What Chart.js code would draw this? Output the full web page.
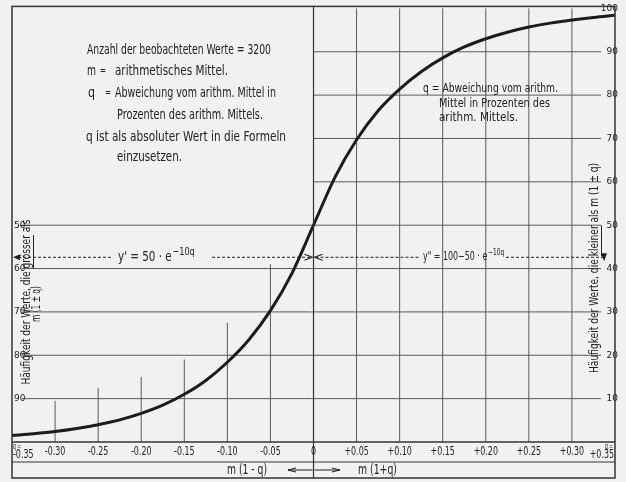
<!DOCTYPE html>
<html>
<head>
<meta charset="utf-8">
<script src="https://cdn.jsdelivr.net/npm/chart.js@4.4.1/dist/chart.umd.min.js"></script>
<style>
  html, body { margin: 0; padding: 0; background: #f1f1ef; }
  canvas { display: block; }
</style>
</head>
<body>
<canvas id="chart" width="626" height="482"></canvas>
<script>
// q values (deviation from the mean) and share of values in percent
const qValues = [-0.35, -0.325, -0.30, -0.275, -0.25, -0.225, -0.20, -0.175, -0.15, -0.125, -0.10, -0.075, -0.05, -0.025,
                 0, 0.025, 0.05, 0.075, 0.10, 0.125, 0.15, 0.175, 0.20, 0.225, 0.25, 0.275, 0.30, 0.325, 0.35];
const shareValues = [1.5, 1.9, 2.4, 3.1, 4.0, 5.1, 6.6, 8.5, 11.0, 14.2, 18.4, 23.6, 30.3, 38.9,
                     50.0, 61.1, 69.7, 76.4, 81.4, 85.4, 88.6, 91.1, 93.0, 94.5, 95.7, 96.6, 97.3, 97.9, 98.4];

const xTickValues = [-0.35, -0.30, -0.25, -0.20, -0.15, -0.10, -0.05, 0, 0.05, 0.10, 0.15, 0.20, 0.25, 0.30, 0.35];
const xTickLabels = ['-0.35', '-0.30', '-0.25', '-0.20', '-0.15', '-0.10', '-0.05', '0',
                     '+0.05', '+0.10', '+0.15', '+0.20', '+0.25', '+0.30', '+0.35'];
const rightTicks = [10, 20, 30, 40, 50, 60, 70, 80, 90, 100];
const leftTicks = [50, 60, 70, 80, 90];

// grid pieces (values on the right-hand scale)
const gridRowsFull = [10, 20, 30, 40, 50];
const gridRowsUpper = [60, 70, 80, 90];
const gridColsRight = [0.05, 0.10, 0.15, 0.20, 0.25, 0.30];
const stemQ = [-0.30, -0.25, -0.20, -0.15, -0.10, -0.05];
const stemTop = [9.5, 12.5, 15.0, 19.0, 27.5, 41.0];
const markerLevel = 42.6;

const FONT = "'DejaVu Sans', 'Liberation Sans', sans-serif";
const INK = '#222';
const GRID = '#5a5a5a';

// draws text squeezed to a given width (the original uses narrow hand lettering)
function txt(ctx, s, x, y, size, w, align) {
  ctx.font = size + 'px ' + FONT;
  const sx = w ? w / ctx.measureText(s).width : 1;
  ctx.save();
  ctx.translate(x, y);
  ctx.scale(sx, 1);
  ctx.textAlign = align || 'left';
  ctx.textBaseline = 'middle';
  ctx.fillText(s, 0, 0);
  ctx.restore();
}

function vtxt(ctx, s, cx, cy, size, w) {
  ctx.font = size + 'px ' + FONT;
  const sx = w ? w / ctx.measureText(s).width : 1;
  ctx.save();
  ctx.translate(cx, cy);
  ctx.rotate(-Math.PI / 2);
  ctx.scale(sx, 1);
  ctx.textAlign = 'center';
  ctx.textBaseline = 'middle';
  ctx.fillText(s, 0, 0);
  ctx.restore();
  return sx;
}

function seg(ctx, x1, y1, x2, y2) {
  ctx.beginPath();
  ctx.moveTo(x1, y1);
  ctx.lineTo(x2, y2);
  ctx.stroke();
}

// formula like "y' = 50 · e" with a raised exponent
function formula(ctx, base, exp, x, y, size, sx) {
  ctx.save();
  ctx.translate(x, y);
  ctx.scale(sx, 1);
  ctx.textBaseline = 'middle';
  ctx.textAlign = 'left';
  ctx.font = size + 'px ' + FONT;
  ctx.fillText(base, 0, 0);
  const w = ctx.measureText(base).width;
  ctx.font = (size - 3) + 'px ' + FONT;
  ctx.fillText(exp, w + 1, -5);
  ctx.restore();
}

const decor = {
  id: 'decor',
  beforeDatasetsDraw(chart) {
    const { ctx, chartArea: a, scales } = chart;
    const X = v => scales.x.getPixelForValue(v);
    const Y = v => scales.yR.getPixelForValue(v);
    ctx.save();
    ctx.strokeStyle = GRID;
    ctx.lineWidth = 1;
    gridRowsFull.forEach(v => seg(ctx, a.left + 10, Y(v), a.right - 14, Y(v)));
    gridRowsUpper.forEach(v => seg(ctx, X(0), Y(v), a.right - 14, Y(v)));
    gridColsRight.forEach(q => seg(ctx, X(q), a.top, X(q), a.bottom));
    stemQ.forEach((q, i) => seg(ctx, X(q), Y(stemTop[i]), X(q), a.bottom));
    ctx.restore();
  },
  afterDraw(chart) {
    const { ctx, chartArea: a, scales } = chart;
    const X = v => scales.x.getPixelForValue(v);
    const Y = v => scales.yR.getPixelForValue(v);
    const bottom = 478;
    const row = a.bottom + 20;
    ctx.save();

    // frame
    ctx.strokeStyle = '#333';
    ctx.lineWidth = 1.5;
    ctx.strokeRect(a.left, a.top - 2, a.right - a.left, bottom - a.top + 2);
    seg(ctx, a.left, a.bottom, a.right, a.bottom);
    ctx.lineWidth = 1;
    seg(ctx, a.left, row, a.right, row);
    ctx.lineWidth = 1.2;
    seg(ctx, X(0), a.top - 2, X(0), bottom);

    ctx.fillStyle = INK;
    ctx.strokeStyle = INK;

    // x tick labels, placed by the x scale
    xTickValues.forEach((v, i) => {
      const s = xTickLabels[i];
      ctx.font = '12px ' + FONT;
      const w = ctx.measureText(s).width * 0.66;
      let x = X(v) - w / 2;
      let y = a.bottom + 10;
      if (i === 0) { x = a.left + 1; y = a.bottom + 13; }
      if (i === xTickValues.length - 1) { x = a.right - w - 1; y = a.bottom + 13; }
      txt(ctx, s, x, y, 12, w);
    });
    txt(ctx, 'q =', 13, a.bottom + 5, 9, 8);
    txt(ctx, 'q =', 605, a.bottom + 5, 9, 8);

    // text block upper left
    txt(ctx, 'Anzahl der beobachteten Werte = 3200', 87, 50, 14, 184);
    txt(ctx, 'm', 87, 71, 14, 9);
    txt(ctx, '=', 100, 71, 12, 6);
    txt(ctx, 'arithmetisches Mittel.', 115, 71, 14, 113);
    txt(ctx, 'q', 88, 93, 14, 7);
    txt(ctx, '=', 105, 93, 12, 6);
    txt(ctx, 'Abweichung vom arithm. Mittel in', 115, 93, 14, 161);
    txt(ctx, 'Prozenten des arithm. Mittels.', 117, 115, 14, 146);
    txt(ctx, 'q ist als absoluter Wert in die Formeln', 86, 137, 14, 200);
    txt(ctx, 'einzusetzen.', 117, 157, 14, 65);

    // text block right
    txt(ctx, 'q = Abweichung vom arithm.', 423, 89, 13, 135);
    txt(ctx, 'Mittel in Prozenten des', 439, 104, 13, 111);
    txt(ctx, 'arithm. Mittels.', 439, 118, 13, 79);

    // axis titles
    const sl = vtxt(ctx, 'Häufigkeit der Werte, die grösser als', 27, 302, 13, 165);
    vtxt(ctx, 'm (1 ± q)', 37, 304, 13, 36);
    const sr = vtxt(ctx, 'Häufigkeit der Werte, die kleiner als m (1 ± q)', 595, 268, 13, 210);
    ctx.lineWidth = 1;
    ctx.font = '13px ' + FONT;
    {
      const full = ctx.measureText('Häufigkeit der Werte, die grösser als').width * sl;
      const pre = ctx.measureText('Häufigkeit der Werte, die ').width * sl;
      const w = ctx.measureText('grösser').width * sl;
      const y0 = 302 + full / 2 - pre;
      seg(ctx, 33.5, y0, 33.5, y0 - w);
    }
    {
      const full = ctx.measureText('Häufigkeit der Werte, die kleiner als m (1 ± q)').width * sr;
      const pre = ctx.measureText('Häufigkeit der Werte, die ').width * sr;
      const w = ctx.measureText('kleiner').width * sr;
      const y0 = 268 + full / 2 - pre;
      seg(ctx, 601.5, y0, 601.5, y0 - w);
    }

    // dashed marker line with formulas
    const ym = Y(markerLevel);
    ctx.setLineDash([3, 2]);
    ctx.lineWidth = 1;
    seg(ctx, a.left + 6, ym, 113, ym);
    seg(ctx, 212, ym, X(0) - 2, ym);
    seg(ctx, X(0) + 2, ym, 420, ym);
    seg(ctx, 506, ym, a.right - 12, ym);
    ctx.setLineDash([]);
    formula(ctx, "y' = 50 · e", '−10q', 118, ym, 14, 0.74);
    formula(ctx, 'y" = 100−50 · e', '−10q', 423, ym, 12, 0.66);
    // arrow heads
    ctx.beginPath();
    ctx.moveTo(a.left + 1, ym); ctx.lineTo(a.left + 8, ym - 3); ctx.lineTo(a.left + 8, ym + 3); ctx.closePath(); ctx.fill();
    ctx.beginPath();
    ctx.moveTo(a.right - 14, ym - 4); ctx.lineTo(a.right - 8, ym - 4); ctx.lineTo(a.right - 11, ym + 4); ctx.closePath(); ctx.fill();
    ctx.lineWidth = 1.2;
    seg(ctx, X(0) - 9, ym - 3, X(0) - 1, ym); seg(ctx, X(0) - 9, ym + 3, X(0) - 1, ym);
    seg(ctx, X(0) + 9, ym - 3, X(0) + 1, ym); seg(ctx, X(0) + 9, ym + 3, X(0) + 1, ym);

    // bottom row: m(1-q) <- -> m(1+q)
    const yb = 470;
    txt(ctx, 'm (1 - q)', 227, yb, 14, 40);
    txt(ctx, 'm (1+q)', 358, yb, 14, 39);
    ctx.lineWidth = 1;
    seg(ctx, 288, yb, X(0) - 1, yb);
    seg(ctx, 288, yb, 296, yb - 2); seg(ctx, 288, yb, 296, yb + 2);
    seg(ctx, X(0) + 1, yb, 340, yb);
    seg(ctx, 340, yb, 332, yb - 2); seg(ctx, 340, yb, 332, yb + 2);

    ctx.restore();
  }
};

new Chart(document.getElementById('chart'), {
  type: 'line',
  data: {
    datasets: [{
      data: qValues.map((q, i) => ({ x: q, y: shareValues[i] })),
      yAxisID: 'yR',
      borderColor: '#1c1c1c',
      borderWidth: 3,
      pointRadius: 0,
      cubicInterpolationMode: 'monotone',
      fill: false
    }]
  },
  options: {
    responsive: false,
    animation: false,
    devicePixelRatio: 1,
    layout: { padding: { left: 12, right: 11, top: 8, bottom: 4 } },
    plugins: { legend: { display: false }, tooltip: { enabled: false } },
    scales: {
      x: {
        type: 'linear',
        min: -0.35,
        max: 0.35,
        afterBuildTicks: s => { s.ticks = xTickValues.map(v => ({ value: v })); },
        afterFit: s => { s.height = 36; },
        grid: { display: false, drawTicks: false },
        border: { display: false },
        ticks: { display: false }
      },
      yL: {
        position: 'left',
        min: 0,
        max: 100,
        reverse: true,
        afterBuildTicks: s => { s.ticks = leftTicks.map(v => ({ value: v })); },
        afterFit: s => { s.width = 0; },
        grid: { display: false, drawTicks: false },
        border: { display: false },
        ticks: { mirror: true, padding: 2, color: INK, font: { family: FONT, size: 9 } }
      },
      yR: {
        position: 'right',
        min: 0,
        max: 100,
        afterBuildTicks: s => { s.ticks = rightTicks.map(v => ({ value: v })); },
        afterFit: s => { s.width = 0; },
        grid: { display: false, drawTicks: false },
        border: { display: false },
        ticks: { mirror: true, padding: 3, color: INK, font: { family: FONT, size: 9 } }
      }
    }
  },
  plugins: [decor]
});
</script>
</body>
</html>
